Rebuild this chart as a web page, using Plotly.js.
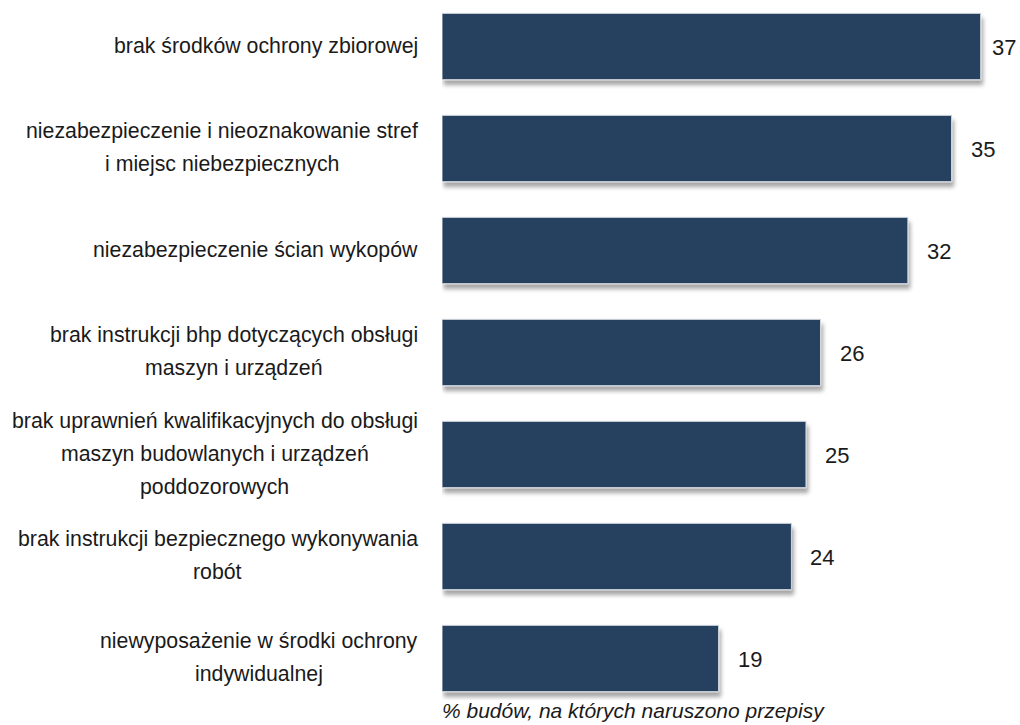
<!DOCTYPE html>
<html>
<head>
<meta charset="utf-8">
<script src="https://cdn.plot.ly/plotly-3.0.1.min.js"></script>
<style>
  html, body { margin: 0; padding: 0; background: #ffffff; }
  #chart { width: 1020px; height: 725px; }
  #chart .barlayer .point path { filter: url(#barshadow); }
</style>
</head>
<body>
<svg width="0" height="0" style="position:absolute">
  <defs>
    <filter id="barshadow" x="-5%" y="-30%" width="115%" height="170%">
      <feGaussianBlur in="SourceAlpha" stdDeviation="2"/>
      <feOffset dx="2" dy="5" result="off"/>
      <feComponentTransfer><feFuncA type="linear" slope="0.35"/></feComponentTransfer>
      <feMerge><feMergeNode/><feMergeNode in="SourceGraphic"/></feMerge>
    </filter>
  </defs>
</svg>
<div id="chart"></div>
<script>
// ---- data ----
const categories = [
  "brak środków ochrony zbiorowej",
  "niezabezpieczenie i nieoznakowanie stref<br>i miejsc niebezpiecznych",
  "niezabezpieczenie ścian wykopów",
  "brak instrukcji bhp dotyczących obsługi<br>maszyn i urządzeń",
  "brak uprawnień kwalifikacyjnych do obsługi<br>maszyn budowlanych i urządzeń<br>poddozorowych",
  "brak instrukcji bezpiecznego wykonywania<br>robót",
  "niewyposażenie w środki ochrony<br>indywidualnej"
];
const values = [37, 35, 32, 26, 25, 24, 19];
const axisNote = "% budów, na których naruszono przepisy";

// ---- styles ----
const FONT = '"Liberation Sans", Arial, Helvetica, sans-serif';
const LABEL_SIZE = 21.3;
const VALUE_SIZE = 22;
const BAR_COLOR = '#27405f';
const TEXT_COLOR = '#1a1a1a';
const W = 1020, H = 725;
const margin = {l: 442, r: 0, t: 0, b: 25};
const xMax = 39.7;
const LINE_GAP = 33;

const ctx = document.createElement('canvas').getContext('2d');
function textWidth(t, size, italic) {
  ctx.font = (italic ? 'italic ' : '') + size + 'px "Liberation Sans"';
  return ctx.measureText(t).width;
}
const pxPerUnit = (W - margin.l - margin.r) / xMax;

const annotations = [];
categories.forEach((cat, i) => {
  const lines = cat.split('<br>');
  const maxW = Math.max(...lines.map(l => textWidth(l, LABEL_SIZE)));
  const n = lines.length;
  lines.forEach((line, j) => {
    annotations.push({
      xref: 'x', yref: 'y', x: 0, y: cat,
      text: line, showarrow: false,
      xanchor: 'center', yanchor: 'middle',
      xshift: -(24 + maxW / 2),
      yshift: -(j - (n - 1) / 2) * LINE_GAP + 1,
      font: {family: FONT, size: LABEL_SIZE, color: TEXT_COLOR}
    });
  });
  const v = values[i];
  const tw = textWidth(String(v), VALUE_SIZE);
  const barEnd = margin.l + v * pxPerUnit;
  const shift = Math.min(17, W - barEnd - tw - 6);
  annotations.push({
    xref: 'x', yref: 'y', x: v, y: cat,
    text: String(v), showarrow: false,
    xanchor: 'left', yanchor: 'middle',
    xshift: shift, yshift: -1,
    font: {family: FONT, size: VALUE_SIZE, color: TEXT_COLOR}
  });
});
annotations.push({
  xref: 'paper', yref: 'paper', x: 0, y: 0,
  text: '<i>' + axisNote + '</i>', showarrow: false,
  xanchor: 'left', yanchor: 'bottom', yshift: -24, xshift: -2,
  font: {family: FONT, size: 21, color: TEXT_COLOR}
});

const trace = {
  type: 'bar', orientation: 'h',
  y: categories, x: values,
  width: 0.65,
  marker: {color: BAR_COLOR, line: {color: '#d3d8de', width: 1}},
  hoverinfo: 'none'
};

const layout = {
  width: W, height: H,
  margin: margin,
  paper_bgcolor: '#ffffff', plot_bgcolor: '#ffffff',
  showlegend: false,
  xaxis: {visible: false, range: [0, xMax], fixedrange: true},
  yaxis: {type: 'category', showticklabels: false, showgrid: false, zeroline: false,
          showline: false, ticks: '', range: [6.407, -0.456], fixedrange: true},
  annotations: annotations,
  font: {family: FONT}
};

Plotly.newPlot('chart', [trace], layout, {displayModeBar: false, staticPlot: true});
</script>
</body>
</html>
